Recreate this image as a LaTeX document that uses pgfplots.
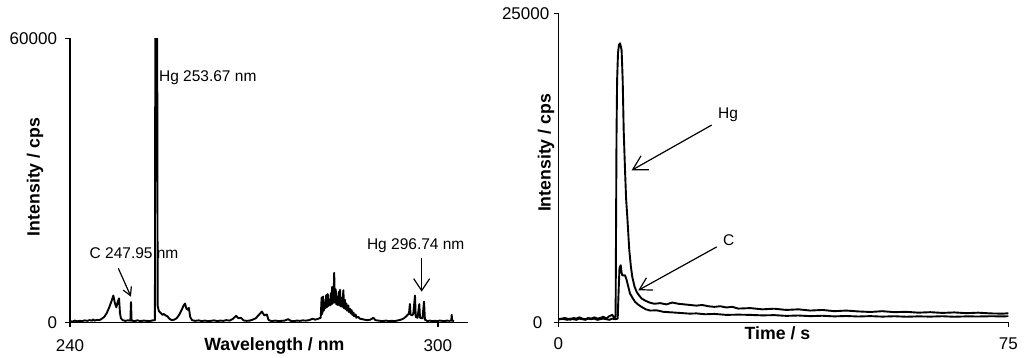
\documentclass[border=0pt]{standalone}
\usepackage{pgfplots}
\pgfplotsset{compat=1.18}
\usepackage{fontspec}
\setmainfont{Liberation Sans}
\usetikzlibrary{arrows.meta}

\pgfplotsset{
  mystyle/.style={
    scale only axis,
    axis x line=bottom, axis y line=left,
    axis line style={-, line width=1.5pt, black},
    tick align=outside,
    major tick length=4.5pt,
    tick style={line width=1.5pt, black},
    tick label style={font=\fontsize{17}{20}\selectfont},
    label style={font=\fontsize{17.7}{21}\selectfont\bfseries},
    scaled x ticks=false, scaled y ticks=false,
    clip=true,
  },
  dataline/.style={black, line width=1.9pt, line join=round, mark=none},
}

\pgfplotstableread{
x y
240.0 300
240.4 200
240.8 400
241.2 250
241.6 350
242.0 300
242.4 450
242.8 350
243.2 500
243.6 400
243.8 650
244.0 400
244.4 550
244.8 500
245.2 800
245.6 1200
246.0 2000
246.4 3200
246.8 4600
247.07 5700
247.3 4200
247.55 3200
247.8 4400
248.0 5100
248.15 2000
248.3 900
248.6 500
249.0 350
249.4 450
249.85 400
249.95 4300
250.05 400
250.5 300
251.0 450
251.5 300
252.0 400
252.5 350
253.0 300
253.5 450
253.85 500
253.92 65000
254.22 65000
254.3 3500
254.5 2400
254.8 2000
255.1 1600
255.3 1800
255.6 1500
255.9 1300
256.2 800
256.6 500
257.0 600
257.4 900
257.8 1600
258.2 2600
258.5 3500
258.76 4000
259.0 2900
259.2 2700
259.4 3100
259.6 1200
259.9 500
260.4 350
261.0 450
261.5 300
262.0 400
262.5 300
263.0 350
263.5 450
264.0 300
264.5 400
265.0 350
265.5 500
266.0 400
266.5 700
267.1 1400
267.5 900
267.9 1000
268.3 450
268.8 350
269.3 400
269.8 600
270.3 900
270.8 1600
271.3 2300
271.7 1500
272.1 1700
272.4 500
272.9 300
273.5 400
274.0 300
274.5 350
275.0 400
275.6 700
276.0 350
276.5 300
277.0 400
277.5 350
278.0 450
278.5 400
279.0 500
279.6 800
280.0 600
280.5 800
280.9 1000
281.05 5300
281.15 1800
281.3 5500
281.4 2500
281.55 4200
281.65 3000
281.8 5800
281.9 3200
282.05 6000
282.15 3500
282.3 4800
282.4 3600
282.55 6200
282.65 3800
282.75 7500
282.85 4000
283.0 5500
283.1 10500
283.2 4200
283.35 7000
283.45 3800
283.6 5500
283.7 3700
283.85 6500
283.95 3600
284.05 6900
284.15 3400
284.3 5200
284.4 3300
284.6 6800
284.7 3000
284.85 4800
284.95 2800
285.1 4000
285.2 2500
285.4 3600
285.5 2200
285.7 2900
285.8 1900
285.95 2600
286.05 1600
286.25 2100
286.35 1300
286.6 1700
286.7 1000
287.0 1200
287.3 800
287.7 700
288.0 600
288.5 500
289.0 600
289.5 1000
289.8 500
290.3 400
291.0 300
291.5 400
292.0 300
292.5 350
293.0 300
293.5 450
294.0 600
294.5 900
295.0 1500
295.3 1900
295.45 3900
295.55 1700
295.8 1500
296.0 1800
296.28 5700
296.4 1200
296.7 1000
296.98 3900
297.1 1000
297.5 900
297.75 4400
297.9 600
298.3 300
298.7 400
299.1 300
299.5 350
299.9 300
300.3 400
300.7 350
301.1 300
301.5 400
301.9 350
302.2 400
302.27 1600
302.35 400
302.64 300
}\spectrum

\pgfplotstableread{
x y
0 300
0.5 250
1 350
1.5 300
2 200
2.5 350
3 300
3.5 400
4 300
4.5 250
5 350
5.5 300
6 400
6.5 300
7 350
7.5 450
8 300
8.5 500
9.0 600
9.3 400
9.55 450
9.7 15000
9.8 19600
9.95 21770
10.1 22440
10.3 22575
10.55 22030
10.73 19600
10.9 15500
11.12 12300
11.3 10000
11.5 8530
11.83 5830
12.1 4500
12.33 3670
12.7 2900
13.07 2450
13.5 2150
13.9 1920
14.5 1750
15.2 1600
16.0 1500
17 1550
18 1450
19 1600
20 1500
21 1450
22 1400
23 1350
24 1400
25 1300
26 1250
27 1300
28 1200
29 1250
30 1110
32 1150
34 1050
36 1100
38 1000
40 1050
42 950
44 1000
46 900
48 950
50 880
52 835
54 900
56 820
58 850
60 780
62 820
64 760
66 800
68 740
70 780
72 720
74 700
75 730
}\hgtime

\pgfplotstableread{
x y
0 200
0.5 300
1 250
1.5 200
2 300
2.5 250
3 200
3.5 300
4 250
4.5 200
5 300
5.5 250
6 300
6.5 200
7 250
7.5 300
8 250
8.5 200
9 300
9.5 250
9.9 300
10.05 2500
10.2 4400
10.4 4620
10.55 4000
10.67 3800
11.12 3800
11.4 3400
11.95 2330
12.4 1950
12.8 1650
13.4 1400
13.9 1240
14.6 1050
15.3 950
16.4 970
17.5 850
19 800
20.5 750
21.9 700
23 720
24.5 650
26 680
28 600
30 620
32 600
34 560
36 580
38 520
40 550
42 500
44 530
46 480
48 510
50 470
52 500
54 460
56 490
58 450
60 480
62 460
64 490
66 450
68 480
70 470
72 490
74 480
75 490
}\ctime

\begin{document}
\begin{tikzpicture}[x=1pt,y=1pt]
% left panel: spectrum
\begin{axis}[mystyle,
  anchor=south west, at={(70pt,34.5pt)},
  width=398.45pt, height=284.2pt,
  xmin=240, xmax=305, ymin=0, ymax=60000,
  xtick={240,300}, xticklabels={240,300},
  ytick={0,60000}, yticklabels={0,60000},
  xticklabel style={yshift=-9pt},
  yticklabel style={xshift=-5pt},
  xlabel={Wavelength / nm},
  xlabel style={at={(axis description cs:0.513,0)}, anchor=center, yshift=-23.5pt},
  ylabel={Intensity / cps},
  ylabel style={at={(axis description cs:-0.0878,0.512)}, anchor=center},
]
\addplot[dataline] table[x=x,y=y] {\spectrum};
\node[anchor=west, font=\fontsize{15.5}{18}\selectfont, inner sep=0pt] at (axis cs:254.5,51600) {Hg 253.67 nm};
\node[anchor=center, font=\fontsize{15.5}{18}\selectfont, inner sep=0pt] at (axis cs:250.45,14600) {C 247.95 nm};
\node[anchor=center, font=\fontsize{15.5}{18}\selectfont, inner sep=0pt] at (axis cs:296.4,16150) {Hg 296.74 nm};
\draw[-{Straight Barb[length=8pt,width=9pt]}, line width=1.2pt] (axis cs:247.88,11440) -- (axis cs:249.95,5450);
\draw[-{Straight Barb[length=12pt,width=16pt]}, line width=1.2pt] (axis cs:297.37,13550) -- (axis cs:297.37,6500);
\end{axis}

% right panel: time trace
\begin{axis}[mystyle,
  anchor=south west, at={(558.3pt,34.7pt)},
  width=450pt, height=309pt,
  xmin=0, xmax=75, ymin=0, ymax=25000,
  xtick={0,75}, xticklabels={0,75},
  ytick={0,25000}, yticklabels={0\kern7pt,25000},
  xticklabel style={yshift=-7.5pt},
  yticklabel style={xshift=-1pt},
  xlabel={Time / s},
  xlabel style={at={(axis description cs:0.487,0)}, anchor=center, yshift=-11pt},
  ylabel={Intensity / cps},
  ylabel style={at={(axis description cs:-0.0273,0.548)}, anchor=center},
]
\addplot[dataline] table[x=x,y=y] {\hgtime};
\addplot[dataline] table[x=x,y=y] {\ctime};
\node[anchor=center, font=\fontsize{15.5}{18}\selectfont, inner sep=0pt] at (axis cs:28.3,16770) {Hg};
\node[anchor=center, font=\fontsize{15.5}{18}\selectfont, inner sep=0pt] at (axis cs:28.4,6640) {C};
\draw[-{Straight Barb[length=14pt,width=16pt]}, line width=1.2pt] (axis cs:25.57,15960) -- (axis cs:12.23,12300);
\draw[-{Straight Barb[length=12pt,width=14pt]}, line width=1.2pt] (axis cs:26.4,6100) -- (axis cs:13.33,2590);
\end{axis}
\pgfresetboundingbox
\path[use as bounding box] (0,0) rectangle (1024pt,357pt);
\end{tikzpicture}
\end{document}
